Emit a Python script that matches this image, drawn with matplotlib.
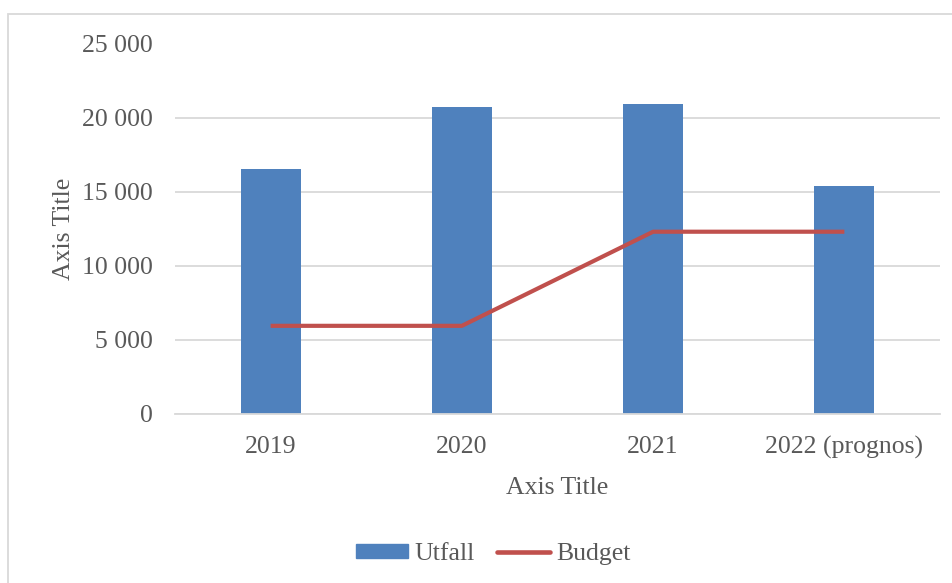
import matplotlib
matplotlib.use("Agg")
import matplotlib.pyplot as plt
from matplotlib.patches import Rectangle
from matplotlib.lines import Line2D
from matplotlib.ticker import FuncFormatter
import numpy as np

categories = ["2019", "2020", "2021", "2022 (prognos)"]
utfall = [16500, 20700, 20900, 15400]
budget = [5950, 5950, 12300, 12300]
yticks = [0, 5000, 10000, 15000, 20000, 25000]

plt.rcParams['font.family'] = ['Liberation Serif', 'DejaVu Serif']
TXT = '#595959'
GRID = '#D9D9D9'
BLUE = '#4F81BD'
RED = '#C0504D'
FS = 18.5

W, H = 953, 583
fig = plt.figure(figsize=(W / 100, H / 100), dpi=100)
fig.patch.set_facecolor('white')

# chart border (right and bottom edges run off the canvas)
fig.patches.append(Rectangle((8 / W, -0.2), 1.5, (H - 14) / H + 0.2, transform=fig.transFigure,
                             fill=False, edgecolor=GRID, linewidth=1.3, zorder=0))

ax = fig.add_axes([175 / W, (H - 414) / H, (940 - 175) / W, (414 - 43.5) / H])
x = np.arange(len(categories))
ax.bar(x, utfall, width=0.314, color=BLUE, zorder=2, label='Utfall')
ax.plot(x, budget, color=RED, linewidth=3.0, zorder=3, label='Budget', solid_capstyle='butt')

ax.set_xlim(-0.5, len(categories) - 0.5)
ax.set_ylim(0, 25000)
ax.set_yticks(yticks)
ax.yaxis.set_major_formatter(FuncFormatter(lambda v, p: f"{int(v):,}".replace(",", " ")))
ax.set_xticks(x)
ax.set_xticklabels(categories)
ax.grid(axis='y', color=GRID, linewidth=1.3, zorder=0)
for s in ['top', 'right', 'left']:
    ax.spines[s].set_visible(False)
ax.spines['bottom'].set_color(GRID)
ax.spines['bottom'].set_linewidth(1.3)
ax.tick_params(axis='both', length=0, labelsize=FS, labelcolor=TXT)
ax.tick_params(axis='y', pad=16)
ax.tick_params(axis='x', pad=16)

ax.set_xlabel('Axis Title', fontsize=FS, color=TXT, labelpad=13)
ax.set_ylabel('Axis Title', fontsize=FS, color=TXT, labelpad=5)

handles = [Rectangle((0, 0), 1, 1, color=BLUE),
           Line2D([0], [0], color=RED, linewidth=3.3, solid_capstyle='round')]
fig.legend(handles, ['Utfall', 'Budget'], loc='center', bbox_to_anchor=(493 / W, (H - 554) / H),
           ncol=2, frameon=False, fontsize=FS, labelcolor=TXT, handlelength=2.05,
           handletextpad=0.25, columnspacing=0.85, handleheight=0.5)

fig.savefig('out.png', dpi=100)
